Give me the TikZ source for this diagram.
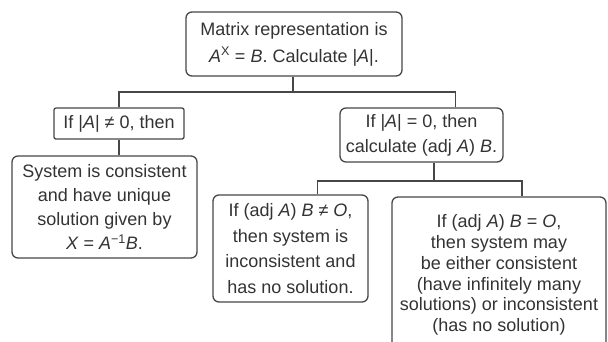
\documentclass[tikz,border=0pt]{standalone}
\usepackage{fontspec}
\setmainfont{Liberation Sans}
\usetikzlibrary{positioning}

\begin{document}
\begin{tikzpicture}[
    x=1pt, y=-1pt,
    box/.style={draw=black!72, line width=1.3pt, rounded corners=6pt, align=center, inner sep=2pt, text=black!80, font=\fontsize{18}{24}\selectfont},
    link/.style={draw=black!72, line width=1.3pt}
]
\useasboundingbox (0,0) rectangle (608,341);
\clip (0,0) rectangle (608,341);

\node[box, minimum width=216pt, minimum height=64pt, font=\fontsize{18}{27}\selectfont] (start) at (294,44) {Matrix representation is\\\textit{A}\textsuperscript{X} = \textit{B}. Calculate |\textit{A}|.};
\node[box, rounded corners=2pt, minimum width=130pt, minimum height=31pt] (nonzero) at (119,123.5) {If |\textit{A}| ≠ 0, then};
\node[box, minimum width=185pt, minimum height=102pt] (unique) at (104.5,207) {System is consistent\\and have unique\\solution given by\\\textit{X} = \textit{A}\textsuperscript{−1}\textit{B}.};
\node[box, minimum width=163pt, minimum height=54pt, font=\fontsize{18}{25}\selectfont] (zero) at (421.5,135) {If |\textit{A}| = 0, then\\calculate (adj \textit{A}) \textit{B}.};
\node[box, minimum width=155pt, minimum height=107pt, font=\fontsize{18}{25.5}\selectfont] (nosol) at (290.5,248.5) {If (adj \textit{A}) \textit{B} ≠ \textit{O},\\then system is\\inconsistent and\\has no solution.};
\node[box, minimum width=214pt, minimum height=156pt, font=\fontsize{18}{20.8}\selectfont] (many) at (499,275) {If (adj \textit{A}) \textit{B} = \textit{O},\\then system may\\be either consistent\\(have infinitely many\\solutions) or inconsistent\\(has no solution)};

% branch points
\coordinate (fork1) at (293,92);
\coordinate (fork2) at (434,181);

\draw[link] (start.south -| fork1) -- (fork1);
\draw[link] (nonzero.north) |- (fork1) -| ([xshift=34]zero.north);
\draw[link] (nonzero.south) -- (nonzero.south |- unique.north);
\draw[link] (zero.south -| fork2) -- (fork2);
\draw[link] ([xshift=27]nosol.north) |- (fork2) -| ([xshift=23]many.north);
\end{tikzpicture}
\end{document}
